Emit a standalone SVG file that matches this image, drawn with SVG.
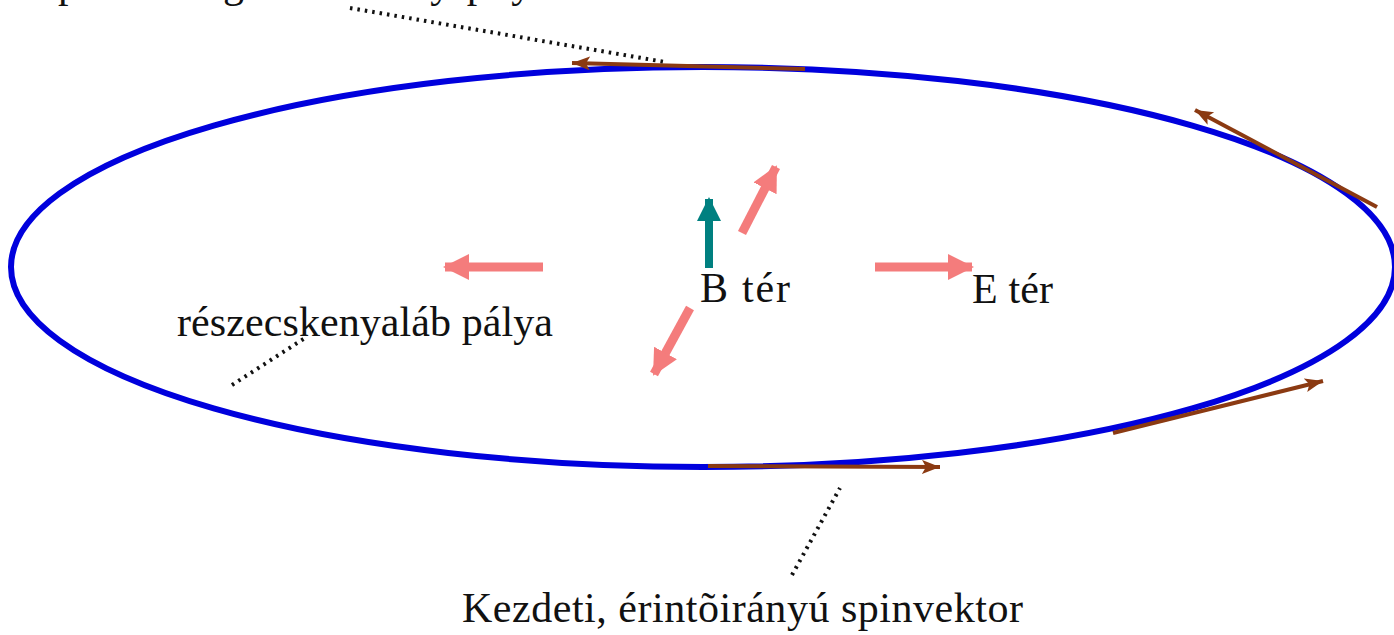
<svg xmlns="http://www.w3.org/2000/svg" width="1394" height="635" viewBox="0 0 1394 635">
<style>
text{font-family:"Liberation Serif","Times New Roman",serif;font-size:42px;fill:#111}
.spin{stroke:#8B3A12;stroke-width:4;fill:none;marker-end:url(#hb)}
.dot{stroke:#111;stroke-width:4;stroke-dasharray:2.5 5;fill:none}
.fld{stroke:#F47C7C;stroke-width:9;fill:none;marker-end:url(#hp)}
</style>
<defs>
<marker id="hb" markerUnits="userSpaceOnUse" markerWidth="22" markerHeight="16" refX="18" refY="7" orient="auto"><path d="M0,0 L18,7 L0,14 L4,7 Z" fill="#8B3A12"/></marker>
<marker id="hp" markerUnits="userSpaceOnUse" markerWidth="28" markerHeight="28" refX="24" refY="13" orient="auto"><path d="M0,0 L26,13 L0,26 Z" fill="#F47C7C"/></marker>
<marker id="ht" markerUnits="userSpaceOnUse" markerWidth="28" markerHeight="28" refX="22" refY="12" orient="auto"><path d="M0,0 L24,12 L0,24 Z" fill="#008080"/></marker>
</defs>
<g id="top-label"><text x="10" y="-3" textLength="610">A spinvektor egész fordulatnyi pálya után</text></g>
<g id="orbit"><ellipse cx="703" cy="267" rx="692" ry="200" fill="none" stroke="#0000DD" stroke-width="6"/></g>
<g id="spin-vectors">
<line class="spin" x1="805" y1="69" x2="572" y2="63"/>
<line class="spin" x1="1377" y1="207" x2="1195" y2="110"/>
<line class="spin" x1="1113" y1="433" x2="1323" y2="381"/>
<line class="spin" x1="708" y1="466" x2="940" y2="467"/>
</g>
<g id="fields">
<line class="fld" x1="543" y1="267" x2="445" y2="267"/>
<line class="fld" x1="875" y1="267" x2="972" y2="267"/>
<line class="fld" x1="742" y1="233" x2="776" y2="167"/>
<line class="fld" x1="690" y1="308" x2="654" y2="374"/>
<line stroke="#008080" stroke-width="8" marker-end="url(#ht)" x1="709" y1="268" x2="709" y2="199"/>
</g>
<g id="connectors">
<line class="dot" x1="350" y1="8" x2="665" y2="62"/>
<line class="dot" x1="232" y1="385" x2="305" y2="338"/>
<line class="dot" x1="792" y1="575" x2="840" y2="488"/>
</g>
<g id="labels">
<text x="700" y="302" textLength="90">B tér</text>
<text x="972" y="303" textLength="81">E tér</text>
<text x="177" y="336" textLength="376">részecskenyaláb pálya</text>
<text x="462" y="622" textLength="561">Kezdeti, érintõirányú spinvektor</text>
</g>
</svg>
